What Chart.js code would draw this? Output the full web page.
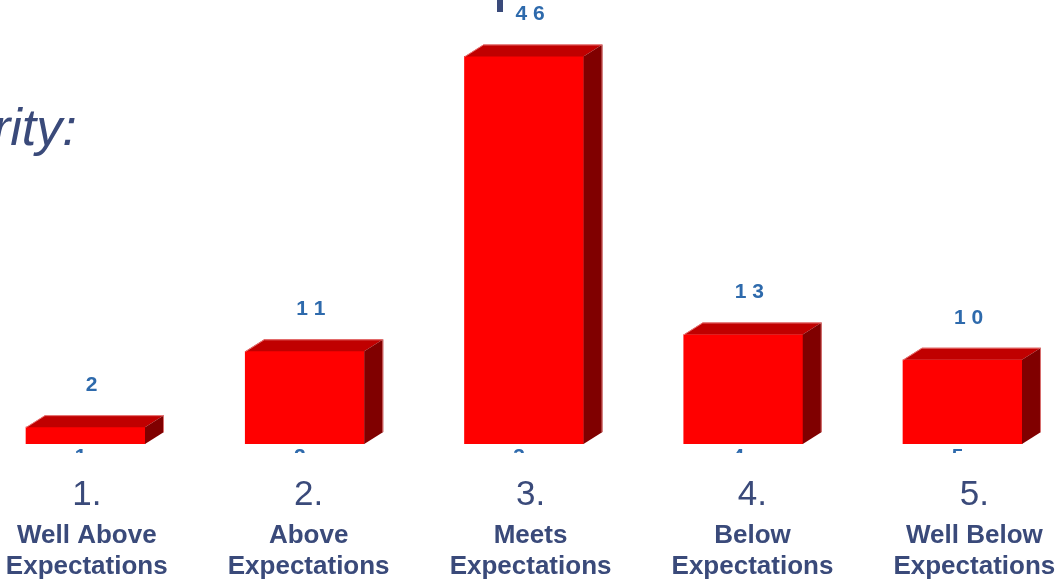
<!DOCTYPE html>
<html>
<head>
<meta charset="utf-8">
<script src="https://cdn.jsdelivr.net/npm/chart.js@4/dist/chart.umd.min.js"></script>
<style>
  html, body { margin: 0; padding: 0; background: #fff; overflow: hidden; }
  #wrap { width: 1064px; height: 584px; }
</style>
</head>
<body>
<div id="wrap"><canvas id="myBarChart" width="1064" height="584"></canvas></div>
<script>
// rating counts
var ratingNo = ['1.', '2.', '3.', '4.', '5.'];
var ratingLine1 = ['Well Above', 'Above', 'Meets', 'Below', 'Well Below'];
var ratingLine2 = ['Expectations', 'Expectations', 'Expectations', 'Expectations', 'Expectations'];
var counts = [2, 11, 46, 13, 10];

var navy = '#3a4a7a';
var blue = '#2e6aac';

// 3D box : depth offset
var DX = 19, DY = 12;

var boxPlugin = {
	id: 'box3d',
	afterDatasetsDraw: function(chart) {
		var ctx = chart.ctx;
		var meta = chart.getDatasetMeta(0);
		ctx.save();
		meta.data.forEach(function(bar) {
			var l = bar.x - bar.width / 2, r = bar.x + bar.width / 2;
			var t = bar.y, b = bar.base;
			// top
			ctx.fillStyle = '#c00000';
			ctx.beginPath();
			ctx.moveTo(l, t);
			ctx.lineTo(l + DX, t - DY);
			ctx.lineTo(r + DX, t - DY);
			ctx.lineTo(r, t);
			ctx.closePath();
			ctx.fill();
			// side
			ctx.fillStyle = '#800000';
			ctx.beginPath();
			ctx.moveTo(r, t);
			ctx.lineTo(r + DX, t - DY);
			ctx.lineTo(r + DX, b - DY);
			ctx.lineTo(r, b);
			ctx.closePath();
			ctx.fill();
			// light edges
			ctx.strokeStyle = 'rgba(240,140,140,0.8)';
			ctx.lineWidth = 1;
			ctx.beginPath();
			ctx.moveTo(l, t + 0.5);
			ctx.lineTo(l + DX, t - DY + 0.5);
			ctx.lineTo(r + DX - 0.5, t - DY + 0.5);
			ctx.lineTo(r + DX - 0.5, b - DY);
			ctx.stroke();
		});
		ctx.restore();
	},
	afterDraw: function(chart) {
		var ctx = chart.ctx;
		var meta = chart.getDatasetMeta(0);
		var lx = chart.scales.xLabel;
		ctx.save();
		ctx.textAlign = 'center';

		// value labels
		ctx.fillStyle = blue;
		ctx.font = 'bold 21px "Liberation Sans", Arial, sans-serif';
		ctx.textBaseline = 'middle';
		meta.data.forEach(function(bar, i) {
			var txt = String(counts[i]).split('').join(' ');
			ctx.fillText(txt, bar.x + 6, bar.y - 42);
		});

		// axis numbers, mostly hidden under the bars
		ctx.save();
		ctx.beginPath();
		ctx.rect(0, 447, chart.width, 6);
		ctx.clip();
		ctx.textBaseline = 'alphabetic';
		meta.data.forEach(function(bar, i) {
			ctx.fillText(String(i + 1), bar.x - 5, 463);
		});
		ctx.restore();

		// category labels
		ctx.fillStyle = navy;
		ctx.textBaseline = 'middle';
		for (var i = 0; i < ratingNo.length; i++) {
			var x = lx.getPixelForValue(i + 1);
			ctx.font = '35px "Liberation Sans", Arial, sans-serif';
			ctx.fillText(ratingNo[i], x, 495);
			ctx.font = 'bold 26px "Liberation Sans", Arial, sans-serif';
			ctx.fillText(ratingLine1[i], x, 536);
			ctx.fillText(ratingLine2[i], x, 567);
		}

		// title pieces
		ctx.textAlign = 'left';
		ctx.textBaseline = 'alphabetic';
		ctx.font = 'italic 52px "Liberation Sans", Arial, sans-serif';
		ctx.fillText('rity:', -7, 145);
		ctx.fillRect(497, 0, 6, 12);
		ctx.restore();
	}
};

var points = counts.map(function(v, i) { return { x: i + 1, y: v }; });

var myBarChart = new Chart(document.getElementById('myBarChart'), {
	type: 'bar',
	data: {
		datasets: [{
			data: points,
			backgroundColor: '#ff0000',
			borderWidth: 0,
			barThickness: 119
		}]
	},
	options: {
		responsive: false,
		animation: false,
		layout: { padding: { top: 0, bottom: 140, left: 0, right: 0 } },
		plugins: { legend: { display: false }, tooltip: { enabled: false } },
		scales: {
			x: { type: 'linear', offset: false, min: 0.61, max: 5.463, display: false },
			xLabel: { type: 'linear', axis: 'x', offset: false, min: 0.609, max: 5.404, display: false },
			y: { min: 0, max: 52.7, display: false }
		}
	},
	plugins: [boxPlugin]
});
</script>
</body>
</html>
